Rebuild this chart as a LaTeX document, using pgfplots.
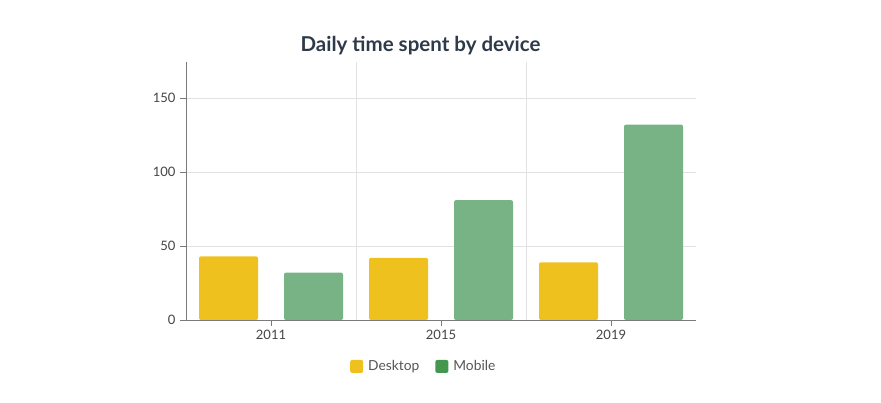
\documentclass[border=0pt]{standalone}
\usepackage{fontspec}
\setmainfont{Lato}
\usepackage{pgfplots}
\pgfplotsset{compat=1.18}
\definecolor{desk}{HTML}{EEC11E}
\definecolor{mobbar}{HTML}{77B384}
\definecolor{mob}{HTML}{45964F}
\definecolor{titlec}{HTML}{2E3A4A}
\definecolor{tickc}{HTML}{444444}
\definecolor{legc}{HTML}{555555}
\definecolor{gridc}{HTML}{E2E2E2}
\definecolor{axisc}{HTML}{7A7A7A}
\begin{document}
\begin{tikzpicture}[x=1pt,y=1pt]
\useasboundingbox (0,0) rectangle (881,403);
\node[font=\fontsize{20.5}{24}\selectfont\bfseries, text=titlec] at (420.5,357) {Daily time spent by device};
\begin{axis}[
  at={(186pt,83pt)}, anchor=south west,
  scale only axis, width=510pt, height=258pt,
  xmin=-0.5, xmax=2.5, ymin=0, ymax=174.3,
  axis lines=left, axis line style={-, draw=axisc, line width=0.8pt},
  xtick={0,1,2}, xticklabels={2011,2015,2019},
  ytick={0,50,100,150},
  extra x ticks={0.5,1.5}, extra x tick labels={},
  extra x tick style={grid=major, major tick length=0pt, major grid style={draw=gridc, line width=0.8pt}},
  ymajorgrids, grid style={draw=gridc, line width=0.8pt},
  tick style={draw=axisc, line width=0.8pt},
  tick align=outside, major tick length=6pt,
  ticklabel style={font=\fontsize{13}{15}\selectfont, text=tickc},
  /pgf/number format/assume math mode=true,
  yticklabel style={xshift=-1pt},
  xticklabel style={yshift=-1pt},
  ybar, bar width=59pt,
  legend style={at={(0.3216,-0.18)}, anchor=west, draw=none, fill=none, inner sep=0pt,
    legend columns=2, font=\fontsize{13.8}{16}\selectfont, text=legc,
    /tikz/every odd column/.append style={column sep=3pt},
    /tikz/every even column/.append style={column sep=14pt}},
  legend image code/.code={\fill[draw=none,rounded corners=2pt,#1] (0pt,-6.5pt) rectangle (13pt,6.5pt);},
]
\addplot[fill=desk, draw=none, bar shift=-42.5pt, rounded corners=2pt, forget plot] coordinates {(0,43) (1,42) (2,39)};
\addplot[fill=mobbar, draw=none, bar shift=42.5pt, rounded corners=2pt, forget plot] coordinates {(0,32) (1,81) (2,132)};
\addlegendimage{fill=desk, draw=none}
\addlegendentry{Desktop}
\addlegendimage{fill=mob, draw=none}
\addlegendentry{Mobile}
\end{axis}
\end{tikzpicture}
\end{document}
